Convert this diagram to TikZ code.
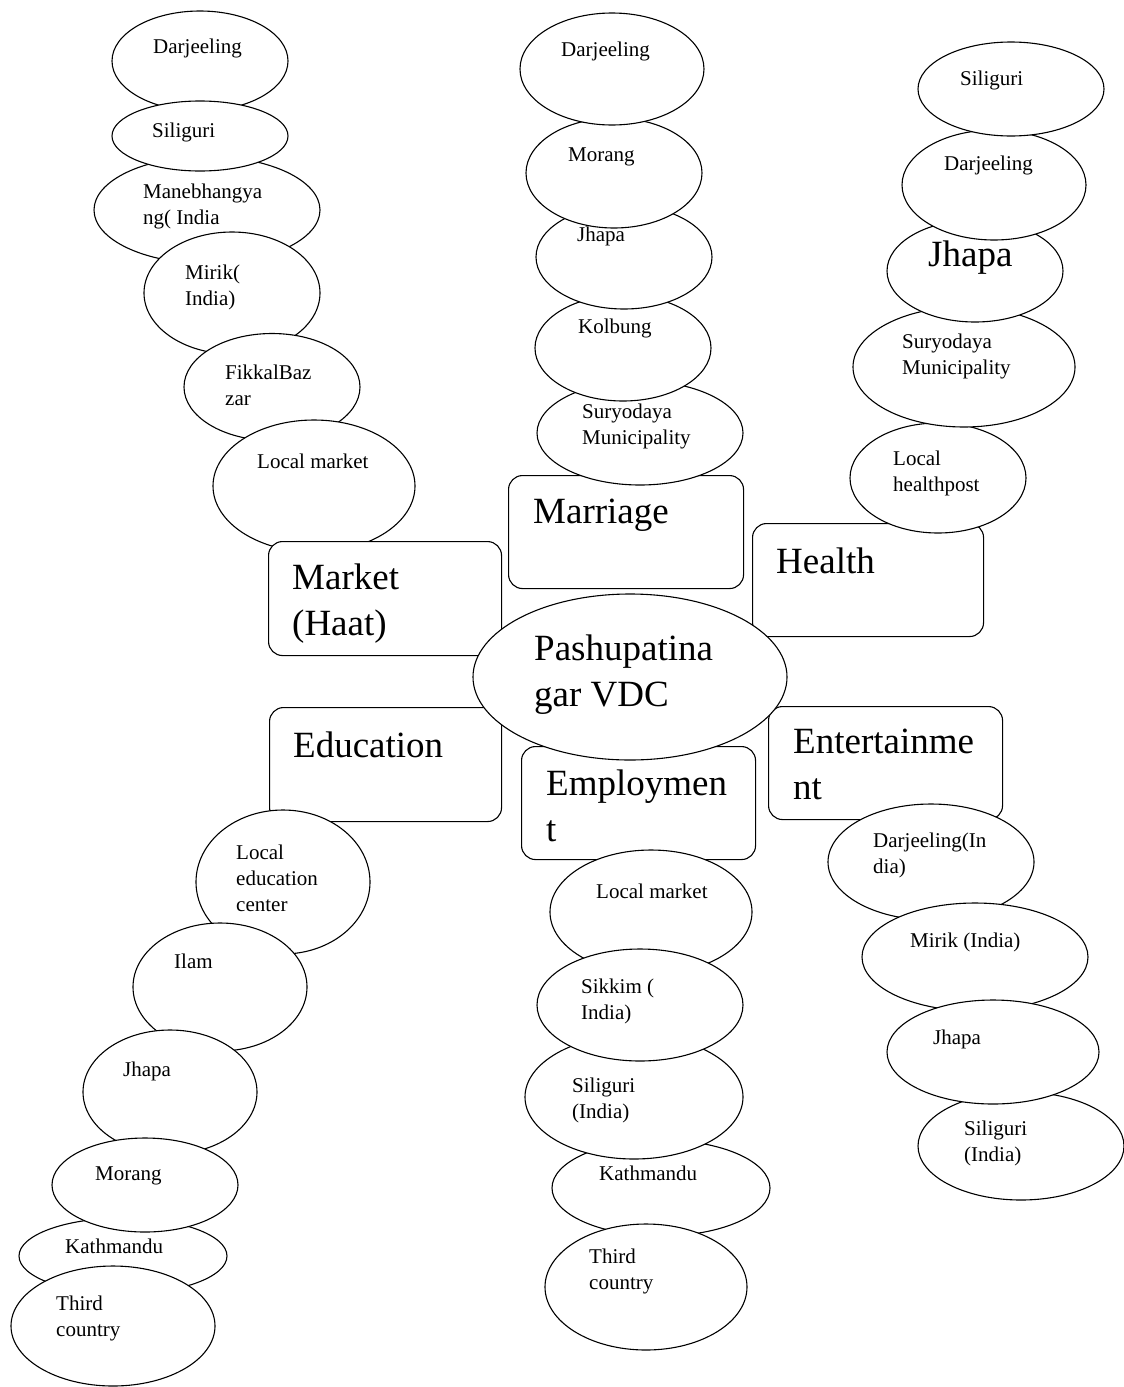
\documentclass[tikz,border=0pt]{standalone}
\usepackage{fontspec}
\setmainfont{Liberation Serif}
\usetikzlibrary{shapes.geometric}
\newcommand\txl[1]{\begin{tabular}[t]{@{}l@{}}#1\end{tabular}}
\tikzset{
  bubble/.style={draw, ellipse, fill=white, inner sep=0pt, line width=1.1pt},
  catbox/.style={draw, rounded corners=14pt, fill=white, inner sep=0pt, line width=1.1pt, anchor=north west},
  smalltext/.style={anchor=base west, inner sep=0pt, font=\fontsize{21}{26}\selectfont},
  bigtext/.style={anchor=base west, inner sep=0pt, font=\fontsize{37}{46}\selectfont}
}
% name, cx, cy, width, height, textx, texty, text
\newcommand\bub[8]{%
  \node[bubble, minimum width=#4pt, minimum height=#5pt] (#1) at (#2,#3) {};
  \node[smalltext] (#1t) at (#6,#7) {\txl{#8}};}
% name, x, y (north west), width, height, textx, texty, text
\newcommand\cbox[8]{%
  \node[catbox, minimum width=#4pt, minimum height=#5pt] (#1) at (#2,#3) {};
  \node[bigtext] (#1t) at (#6,#7) {\txl{#8}};}
\begin{document}
\begin{tikzpicture}[x=1pt, y=-1pt]
\useasboundingbox (0,0) rectangle (1124,1387);
% ---- Market column ----
\bub{ma1}{200}{61}{176}{100}{153}{53}{Darjeeling}
\bub{ma3}{207}{210}{226}{107}{143}{198}{Manebhangya\\ng( India}
\bub{ma2}{200}{136}{176}{70}{152}{137}{Siliguri}
\bub{ma4}{232}{293}{176}{122}{185}{279}{Mirik(\\India)}
\bub{ma5}{272}{387}{176}{107}{225}{379}{FikkalBaz\\zar}
\bub{ma6}{314}{486}{202}{132}{257}{468}{Local market}
\cbox{market}{268}{541}{233}{114}{292}{589}{Market\\(Haat)}
% ---- Marriage column ----
\cbox{marriage}{508}{475}{235}{113}{533}{523}{Marriage}
\bub{mr5}{640}{433}{206}{104}{582}{418}{Suryodaya\\Municipality}
\bub{mr4}{623}{348}{176}{106}{578}{333}{Kolbung}
\bub{mr3}{624}{257}{176}{104}{577}{241}{Jhapa}
\bub{mr2}{614}{173}{176}{110}{568}{161}{Morang}
\bub{mr1}{612}{69}{184}{112}{561}{56}{Darjeeling}
% ---- Health column ----
\cbox{health}{752}{523}{231}{113}{776}{573}{Health}
\bub{he5}{938}{478}{176}{110}{893}{465}{Local\\healthpost}
\bub{he4}{964}{367}{222}{120}{902}{348}{Suryodaya\\Municipality}
\node[bubble, minimum width=176pt, minimum height=102pt] (he3) at (975,271) {};
\node[bigtext] (he3t) at (928,266) {Jhapa};
\bub{he2}{994}{185}{184}{110}{944}{170}{Darjeeling}
\bub{he1}{1011}{89}{186}{94}{960}{85}{Siliguri}
% ---- Education column ----
\cbox{education}{269}{707}{232}{114}{293}{757}{Education}
\bub{ed1}{283}{882}{174}{144}{236}{859}{Local\\education\\center}
\bub{ed2}{220}{987}{174}{128}{174}{968}{Ilam}
\bub{ed3}{170}{1092}{174}{124}{123}{1076}{Jhapa}
\bub{ed5}{123}{1256}{208}{76}{65}{1253}{Kathmandu}
\bub{ed4}{145}{1185}{186}{94}{95}{1180}{Morang}
\bub{ed6}{113}{1326}{204}{120}{56}{1310}{Third\\country}
% ---- Employment column ----
\cbox{employment}{521}{746}{234}{113}{546}{795}{Employmen\\t}
\bub{em1}{651}{912}{202}{124}{596}{898}{Local market}
\bub{em4}{661}{1188}{218}{96}{599}{1180}{Kathmandu}
\bub{em3}{634}{1097}{218}{124}{572}{1092}{Siliguri\\(India)}
\bub{em2}{640}{1005}{206}{112}{581}{993}{Sikkim (\\India)}
\bub{em5}{646}{1287}{202}{126}{589}{1263}{Third\\country}
% ---- Entertainment column ----
\cbox{entertainment}{768}{706}{234}{113}{793}{753}{Entertainme\\nt}
\bub{en1}{931}{862}{206}{116}{873}{847}{Darjeeling(In\\dia)}
\bub{en2}{975}{957}{226}{108}{910}{947}{Mirik (India)}
\bub{en4}{1021}{1146}{206}{108}{964}{1135}{Siliguri\\(India)}
\bub{en3}{993}{1052}{212}{104}{933}{1044}{Jhapa}
% ---- Centre ----
\node[bubble, minimum width=314pt, minimum height=166pt] (vdc) at (630,677) {};
\node[bigtext] (vdct) at (534,660) {\txl{Pashupatina\\gar VDC}};
\end{tikzpicture}
\end{document}
